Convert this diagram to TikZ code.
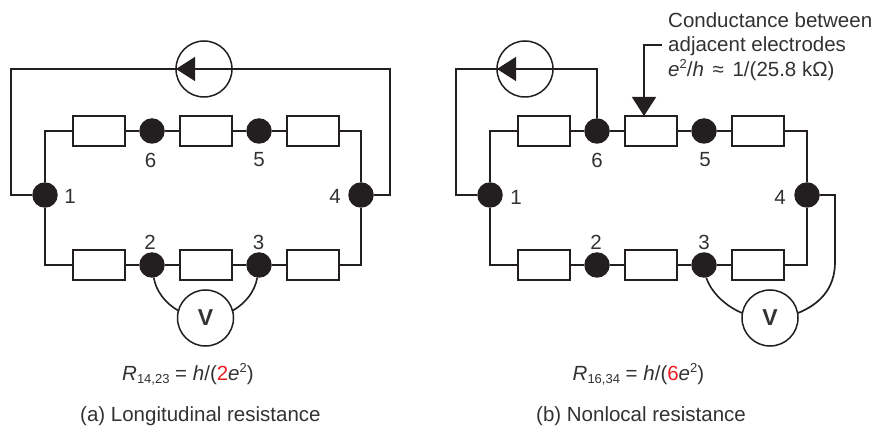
\documentclass[tikz,border=0pt]{standalone}
\usepackage{fontspec}
\setmainfont{Liberation Sans}
\usetikzlibrary{arrows.meta}
\definecolor{ink}{HTML}{231F20}
\definecolor{txt}{HTML}{333132}
\definecolor{redd}{HTML}{ED1C24}
\newcommand{\sbs}[1]{\raisebox{-3pt}{\fontsize{13}{13}\selectfont #1}}
\newcommand{\sps}[1]{\raisebox{7.5pt}{\fontsize{13}{13}\selectfont #1}}
\tikzset{
  wire/.style={draw=ink,line width=1.7pt},
  thinwire/.style={draw=ink,line width=1.1pt},
  curvewire/.style={draw=ink,line width=1.6pt},
  res/.style={draw=ink,fill=white,line width=1.7pt,minimum width=52pt,minimum height=30pt,inner sep=0pt,outer sep=0pt},
  pad/.style={circle,fill=ink,minimum size=25.5pt,inner sep=0pt,outer sep=0pt},
  meter/.style={circle,draw=ink,fill=white,line width=1.5pt,minimum size=56pt,inner sep=0pt,outer sep=0pt},
  lab/.style={text=txt,font=\fontsize{20.5}{21}\selectfont,inner sep=0pt},
  txtb/.style={text=txt,font=\fontsize{20.5}{24}\selectfont,inner sep=0pt,anchor=base west},
  vlab/.style={font=\fontsize{23}{23}\selectfont\bfseries,text=txt},
  bigtip/.style={-{Triangle[length=19pt,width=24pt,color=ink]}}
}
\begin{document}
\begin{tikzpicture}[x=1pt,y=-1pt]
\useasboundingbox (0,0) rectangle (877,427);
% ---- panel (a)
\node[pad] (a1) at (45,195) {};
\node[pad] (a4) at (361,195) {};
\node[pad] (a6) at (152,131) {};
\node[pad] (a5) at (259,131) {};
\node[pad] (a2) at (152,265) {};
\node[pad] (a3) at (259,265) {};
\node[res] (ar1) at (99,131) {};
\node[res] (ar2) at (206,131) {};
\node[res] (ar3) at (313,131) {};
\node[res] (ar4) at (99,265) {};
\node[res] (ar5) at (206,265) {};
\node[res] (ar6) at (313,265) {};
\node[meter] (aS) at (204,69) {};
\node[meter,vlab] (aV) at (205.5,318) {V};
\coordinate (ac1) at (11,69);
\coordinate (ac2) at (11,195);
\coordinate (ac3) at (390,69);
\coordinate (ac4) at (390,195);
\draw[wire] (a1.west) -- (ac2) -- (ac1) -- (aS.west);
\draw[wire] (aS.east) -- (ac3) -- (ac4) -- (a4.east);
\draw[thinwire,bigtip] (aS.east) -- (aS.west);
\draw[wire] (a1.north) |- (ar1.west);
\draw[wire] (ar1.east) -- (a6) -- (ar2.west);
\draw[wire] (ar2.east) -- (a5) -- (ar3.west);
\draw[wire] (ar3.east) -| (a4.north);
\draw[wire] (a1.south) |- (ar4.west);
\draw[wire] (ar4.east) -- (a2) -- (ar5.west);
\draw[wire] (ar5.east) -- (a3) -- (ar6.west);
\draw[wire] (ar6.east) -| (a4.south);
\draw[curvewire] (a2.-82) .. controls (156,291) and (165,303) .. (aV.165);
\draw[curvewire] (a3.-98) .. controls (255,291) and (246,303) .. (aV.15);
\node[lab] (al1) at (70,196) {1};
\node[lab] (al4) at (335,196) {4};
\node[lab] (al6) at (150.5,160) {6};
\node[lab] (al5) at (259,160) {5};
\node[lab] (al2) at (150,242) {2};
\node[lab] (al3) at (258.5,242) {3};
\node[txtb] (afm) at (122,380) {\textit{R}\sbs{14,23} = \textit{h}/(\textcolor{redd}{2}\textit{e}\sps{2})};
\node[txtb] (acap) at (80,421) {(a) Longitudinal resistance};
% ---- panel (b)
\node[pad] (b1) at (490,195) {};
\node[pad] (b4) at (807,195) {};
\node[pad] (b6) at (597,131) {};
\node[pad] (b5) at (704,131) {};
\node[pad] (b2) at (597,265) {};
\node[pad] (b3) at (704,265) {};
\node[res] (br1) at (544,131) {};
\node[res] (br2) at (651,131) {};
\node[res] (br3) at (758,131) {};
\node[res] (br4) at (544,265) {};
\node[res] (br5) at (651,265) {};
\node[res] (br6) at (758,265) {};
\node[meter] (bS) at (525,69) {};
\node[meter,vlab] (bV) at (770,318) {V};
\coordinate (bc1) at (456,69);
\coordinate (bc2) at (456,195);
\coordinate (bc3) at (597,69);
\coordinate (bc4) at (835,195);
\coordinate (bc5) at (835,262);
\coordinate (bc6) at (662,45);
\coordinate (bc7) at (644,45);
\draw[wire] (b1.west) -- (bc2) -- (bc1) -- (bS.west);
\draw[wire] (bS.east) -- (bc3) -- (b6.north);
\draw[thinwire,bigtip] (bS.east) -- (bS.west);
\draw[wire] (b1.north) |- (br1.west);
\draw[wire] (br1.east) -- (b6) -- (br2.west);
\draw[wire] (br2.east) -- (b5) -- (br3.west);
\draw[wire] (br3.east) -| (b4.north);
\draw[wire] (b1.south) |- (br4.west);
\draw[wire] (br4.east) -- (b2) -- (br5.west);
\draw[wire] (br5.east) -- (b3) -- (br6.west);
\draw[wire] (br6.east) -| (b4.south);
\draw[curvewire] (b3.-80) .. controls (711,292) and (725,306) .. (bV.170);
\draw[wire] (b4.east) -- (bc4) -- (bc5) .. controls (835,290) and (818,305) .. (bV.10);
\draw[wire,bigtip] (bc6) -- (bc7) -- (br2.north -| bc7);
\node[lab] (bl1) at (516,197) {1};
\node[lab] (bl4) at (780,197) {4};
\node[lab] (bl6) at (597,160) {6};
\node[lab] (bl5) at (705,160) {5};
\node[lab] (bl2) at (596,242) {2};
\node[lab] (bl3) at (704,242) {3};
\node[txtb] (bt1) at (668,27.5) {Conductance between};
\node[txtb] (bt2) at (668,52) {adjacent electrodes};
\node[txtb] (bt3) at (668,76.5) {\textit{e}\sps{2}/\textit{h}\hspace{3pt} ≈ \hspace{3pt}1/(25.8 kΩ)};
\node[txtb] (bfm) at (572.5,380) {\textit{R}\sbs{16,34} = \textit{h}/(\textcolor{redd}{6}\textit{e}\sps{2})};
\node[txtb] (bcap) at (536,421) {(b) Nonlocal resistance};
\end{tikzpicture}
\end{document}
